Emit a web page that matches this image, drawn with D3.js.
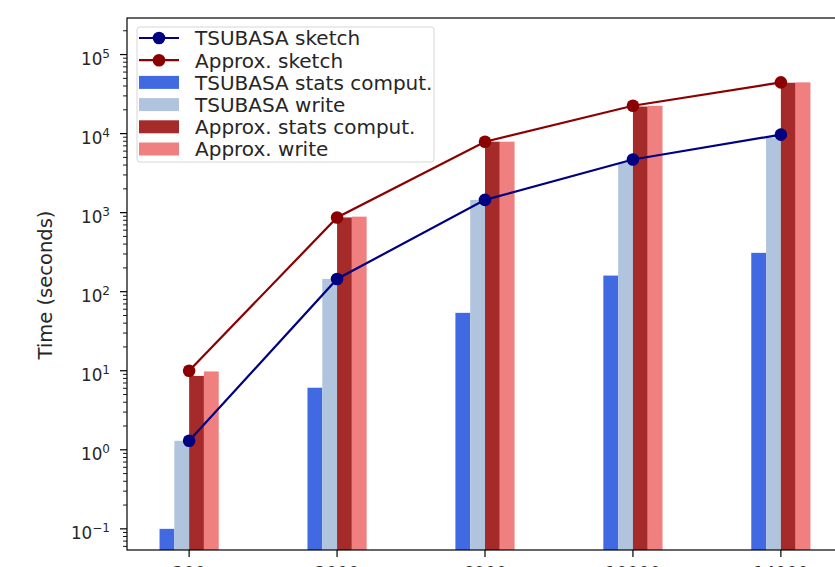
<!DOCTYPE html>
<html>
<head>
<meta charset="utf-8">
<script src="https://cdn.jsdelivr.net/npm/d3@7"></script>
<style>
  html, body { margin: 0; padding: 0; background: #fff; }
  svg { display: block; font-family: "DejaVu Sans", sans-serif; }
</style>
</head>
<body>
<svg id="chart" width="835" height="567"></svg>
<script>
// Dataset sizes (x categories)
const sizes = ["200", "2000", "6000", "10000", "14000"];

// Total sketch time (lines)
const tsubasaSketch = [1.3, 145, 1450, 4700, 9700];
const approxSketch  = [10, 870, 7900, 22500, 44500];

// Breakdown (bars)
const tsubasaStats = [0.1, 6.1, 54, 160, 310];
const tsubasaWrite = [1.3, 145, 1450, 4300, 8900];
const approxStats  = [8.6, 870, 7900, 22000, 44000];
const approxWrite  = [9.8, 890, 7900, 22500, 44500];

const yTickValues = [1e-1, 1e0, 1e1, 1e2, 1e3, 1e4, 1e5];
const yTickExps   = ["\u22121", "0", "1", "2", "3", "4", "5"];

const svg = d3.select("#chart");
const plotLeft = 127, plotTop = 18, plotBottom = 550, plotRight = 843;

const x = d3.scaleLinear().domain([-0.42, 4.42]).range([plotLeft, plotRight]);
const y = d3.scaleLog().domain([0.054, 2.9e5]).range([plotBottom, plotTop]);

const barW = 0.1;
const barSeries = [
  { name: "TSUBASA stats comput.", values: tsubasaStats, offset: -0.2, color: "#4169e1" },
  { name: "TSUBASA write",         values: tsubasaWrite, offset: -0.1, color: "#b0c4de" },
  { name: "Approx. stats comput.", values: approxStats,  offset:  0.0, color: "#a52a2a" },
  { name: "Approx. write",         values: approxWrite,  offset:  0.1, color: "#f08080" }
];
const lineSeries = [
  { name: "TSUBASA sketch", values: tsubasaSketch, color: "#000080" },
  { name: "Approx. sketch", values: approxSketch,  color: "#8b0000" }
];

// Bars
barSeries.forEach(s => {
  svg.append("g").selectAll("rect")
    .data(s.values)
    .join("rect")
    .attr("x", (d, i) => x(i + s.offset))
    .attr("width", x(barW) - x(0))
    .attr("y", d => y(d))
    .attr("height", d => plotBottom - y(d))
    .attr("fill", s.color);
});

// Lines with markers
const line = d3.line().x((d, i) => x(i)).y(d => y(d));
lineSeries.forEach(s => {
  svg.append("path")
    .datum(s.values)
    .attr("d", line)
    .attr("fill", "none")
    .attr("stroke", s.color)
    .attr("stroke-width", 2.2);
  svg.append("g").selectAll("circle")
    .data(s.values)
    .join("circle")
    .attr("cx", (d, i) => x(i))
    .attr("cy", d => y(d))
    .attr("r", 6.3)
    .attr("fill", s.color);
});

// Axes frame
svg.append("rect")
  .attr("x", plotLeft).attr("y", plotTop)
  .attr("width", plotRight - plotLeft).attr("height", plotBottom - plotTop)
  .attr("fill", "none").attr("stroke", "#000").attr("stroke-width", 1.2);

// Y axis: major and minor ticks
const yAxis = svg.append("g");
const minor = [];
for (let e = -2; e <= 5; e++) {
  for (let m = 2; m <= 9; m++) {
    const v = m * Math.pow(10, e);
    if (v >= y.domain()[0] && v <= y.domain()[1]) minor.push(v);
  }
}
yAxis.selectAll("line.minor")
  .data(minor)
  .join("line")
  .attr("class", "minor")
  .attr("x1", plotLeft - 4).attr("x2", plotLeft)
  .attr("y1", d => y(d)).attr("y2", d => y(d))
  .attr("stroke", "#000").attr("stroke-width", 0.9);
yAxis.selectAll("line.major")
  .data(yTickValues)
  .join("line")
  .attr("class", "major")
  .attr("x1", plotLeft - 7).attr("x2", plotLeft)
  .attr("y1", d => y(d)).attr("y2", d => y(d))
  .attr("stroke", "#000").attr("stroke-width", 1.2);
const yLabels = yAxis.selectAll("text")
  .data(yTickValues)
  .join("text")
  .attr("x", plotLeft - 17)
  .attr("y", d => y(d) + 10)
  .attr("text-anchor", "end")
  .attr("fill", "#262626");
yLabels.append("tspan").attr("font-size", 16.8).text("10");
yLabels.append("tspan").attr("font-size", 12).attr("dy", -7)
  .text((d, i) => yTickExps[i]);

// X axis ticks and labels
const xAxis = svg.append("g");
xAxis.selectAll("line")
  .data(sizes)
  .join("line")
  .attr("x1", (d, i) => x(i)).attr("x2", (d, i) => x(i))
  .attr("y1", plotBottom).attr("y2", plotBottom + 7)
  .attr("stroke", "#000").attr("stroke-width", 1.2);
xAxis.selectAll("text")
  .data(sizes)
  .join("text")
  .attr("x", (d, i) => x(i))
  .attr("y", plotBottom + 29)
  .attr("text-anchor", "middle")
  .attr("font-size", 17.5)
  .attr("fill", "#262626")
  .text(d => d);

// Y axis title
svg.append("text")
  .attr("transform", `translate(52,${(plotTop + plotBottom) / 2 + 1}) rotate(-90)`)
  .attr("text-anchor", "middle")
  .attr("font-size", 19.5)
  .attr("fill", "#262626")
  .text("Time (seconds)");

// Legend
const legend = svg.append("g");
legend.append("rect")
  .attr("x", 137).attr("y", 27).attr("width", 297).attr("height", 135)
  .attr("rx", 3)
  .attr("fill", "#fff").attr("fill-opacity", 0.85)
  .attr("stroke", "#d6d6d6").attr("stroke-width", 1);
const rowY = i => 38 + 22.2 * i;
const items = [
  ...lineSeries.map(s => ({ type: "line", name: s.name, color: s.color })),
  ...barSeries.map(s => ({ type: "bar", name: s.name, color: s.color }))
];
items.forEach((it, i) => {
  const cy = rowY(i);
  if (it.type === "line") {
    legend.append("line")
      .attr("x1", 139).attr("x2", 179).attr("y1", cy).attr("y2", cy)
      .attr("stroke", it.color).attr("stroke-width", 2.2);
    legend.append("circle")
      .attr("cx", 159).attr("cy", cy).attr("r", 6.3).attr("fill", it.color);
  } else {
    legend.append("rect")
      .attr("x", 139).attr("y", cy - 6.5).attr("width", 40).attr("height", 13)
      .attr("fill", it.color);
  }
  legend.append("text")
    .attr("x", 195).attr("y", cy + 7.3)
    .attr("font-size", 20)
    .attr("fill", "#262626")
    .text(it.name);
});
</script>
</body>
</html>
